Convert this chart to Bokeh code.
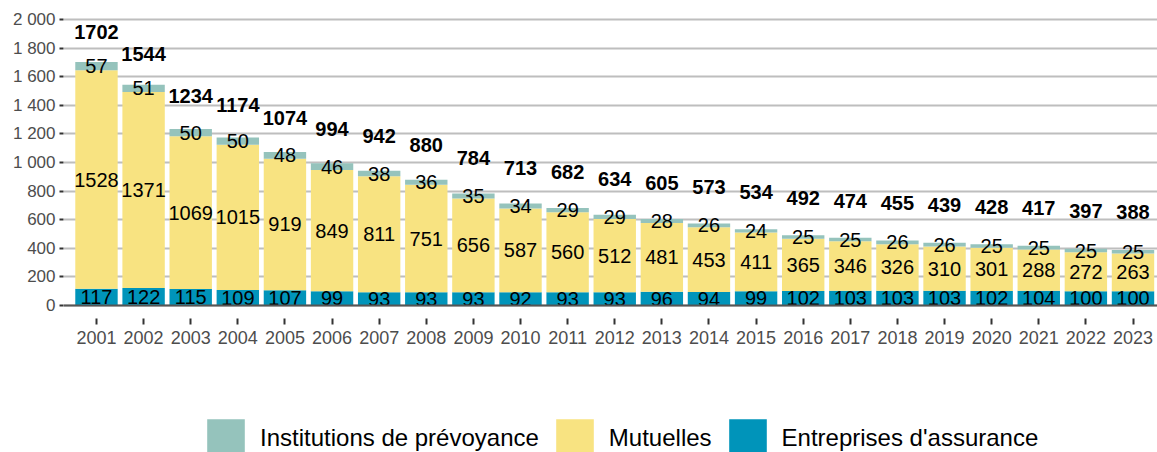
from bokeh.plotting import figure
from bokeh.models import ColumnDataSource, FixedTicker, Legend, LegendItem, Span
from bokeh.embed import file_html
from bokeh.resources import INLINE

years = list(range(2001, 2024))
entreprises = [117, 122, 115, 109, 107, 99, 93, 93, 93, 92, 93, 93, 96, 94, 99, 102, 103, 103, 103, 102, 104, 100, 100]
mutuelles = [1528, 1371, 1069, 1015, 919, 849, 811, 751, 656, 587, 560, 512, 481, 453, 411, 365, 346, 326, 310, 301, 288, 272, 263]
institutions = [57, 51, 50, 50, 48, 46, 38, 36, 35, 34, 29, 29, 28, 26, 24, 25, 25, 26, 26, 25, 25, 25, 25]
y_ticks = list(range(0, 2001, 200))

names = ["Institutions de prévoyance", "Mutuelles", "Entreprises d'assurance"]
colors = {"inst": "#95C3BC", "mut": "#F8E381", "ent": "#0094BA"}

totals = [e + m + i for e, m, i in zip(entreprises, mutuelles, institutions)]
src = ColumnDataSource(dict(
    x=years,
    ent_top=entreprises,
    mut_bot=entreprises,
    mut_top=[e + m for e, m in zip(entreprises, mutuelles)],
    inst_top=totals,
    ent_mid=[e / 2 for e in entreprises],
    mut_mid=[e + m / 2 for e, m in zip(entreprises, mutuelles)],
    inst_mid=[e + m + i / 2 for e, m, i in zip(entreprises, mutuelles, institutions)],
    ent_lbl=[str(v) for v in entreprises],
    mut_lbl=[str(v) for v in mutuelles],
    inst_lbl=[str(v) for v in institutions],
    total_y=[t * 0.958 + 280 for t in totals],   # total labels sit above the bars
    total_lbl=[str(v) for v in totals],
))

FONT = "Liberation Sans"
Y_BOTTOM = -1028   # frame runs down to the page bottom so the legend is not clipped
AXIS_AT = -91      # where the x axis sits (below the zero line, as in the reference)

p = figure(width=1157, height=452, output_backend="svg", toolbar_location=None,
           x_range=(2000.30, 2023.52), y_range=(Y_BOTTOM, 2077),
           min_border_left=63, min_border_right=0, min_border_top=8, min_border_bottom=0)
p.outline_line_color = None
p.background_fill_color = "white"
p.border_fill_color = "white"

r_ent = p.vbar(x="x", bottom=0, top="ent_top", width=0.9, source=src, fill_color=colors["ent"], line_color=None)
r_mut = p.vbar(x="x", bottom="mut_bot", top="mut_top", width=0.9, source=src, fill_color=colors["mut"], line_color=None)
r_inst = p.vbar(x="x", bottom="mut_top", top="inst_top", width=0.9, source=src, fill_color=colors["inst"], line_color=None)

for col, lbl in [("ent_mid", "ent_lbl"), ("mut_mid", "mut_lbl"), ("inst_mid", "inst_lbl")]:
    p.text(x="x", y=col, text=lbl, source=src, text_align="center", text_baseline="middle",
           text_font_size="20px", text_color="black", text_font={"value": FONT})

p.text(x="x", y="total_y", text="total_lbl", source=src, text_align="center", text_baseline="middle",
       text_font_size="20px", text_font_style="bold", text_color="black",
       text_font={"value": FONT})

p.add_layout(Span(location=0, dimension="width", line_color="#555555", line_width=2))

# grid
p.xgrid.grid_line_color = None
p.ygrid.grid_line_color = "#BEBEBE"
p.ygrid.grid_line_width = 2
p.ygrid.ticker = FixedTicker(ticks=y_ticks)

# y axis
p.yaxis.ticker = FixedTicker(ticks=y_ticks)
p.yaxis.major_label_overrides = {t: f"{t:,}".replace(",", " ") for t in y_ticks}
p.yaxis.axis_line_color = None
p.yaxis.major_tick_line_color = "#333333"
p.yaxis.major_tick_line_width = 2
p.yaxis.major_tick_out = 4
p.yaxis.major_tick_in = 0
p.yaxis.minor_tick_line_color = None
p.yaxis.major_label_standoff = 4
p.yaxis.major_label_text_font_size = "17px"
p.yaxis.major_label_text_color = "#4D4D4D"
p.yaxis.major_label_text_font = FONT

# x axis
p.xaxis.fixed_location = AXIS_AT
p.xaxis.ticker = FixedTicker(ticks=years)
p.xaxis.major_label_overrides = {y: str(y) for y in years}
p.xaxis.axis_line_color = None
p.xaxis.major_tick_line_color = "#333333"
p.xaxis.major_tick_line_width = 2
p.xaxis.major_tick_out = 6
p.xaxis.major_tick_in = 0
p.xaxis.minor_tick_line_color = None
p.xaxis.major_label_standoff = 6
p.xaxis.major_label_text_font_size = "18px"
p.xaxis.major_label_text_color = "#4D4D4D"
p.xaxis.major_label_text_font = FONT

legend = Legend(items=[LegendItem(label=names[0], renderers=[r_inst]),
                       LegendItem(label=names[1], renderers=[r_mut]),
                       LegendItem(label=names[2], renderers=[r_ent])],
                orientation="horizontal", location=(139, -9),
                glyph_width=47, glyph_height=47, label_standoff=11, spacing=12,
                padding=0, margin=0, border_line_color=None, background_fill_alpha=0,
                label_text_font_size="24px", label_text_font=FONT,
                label_text_color="black")
p.add_layout(legend, "center")

open("out.html", "w").write(file_html(p, INLINE))
